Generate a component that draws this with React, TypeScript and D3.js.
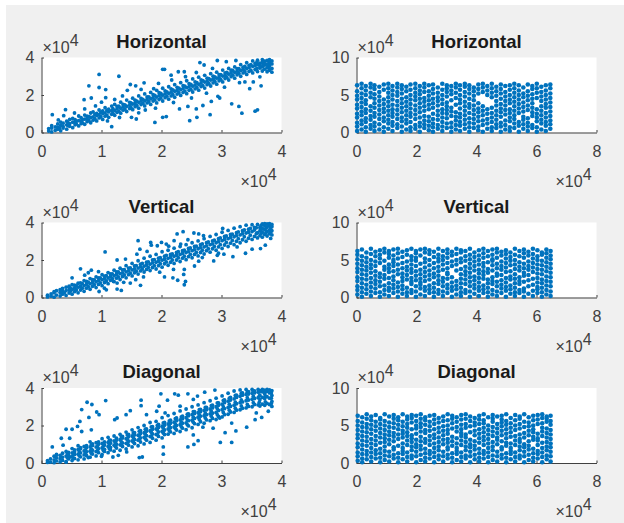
import React, { useEffect, useRef } from 'react';
import * as d3 from 'd3';

type Row = number[];

// all values in units of 1e4
const titles = ['Horizontal', 'Vertical', 'Diagonal'];
const leftTicksX = [0, 1, 2, 3, 4];
const leftTicksY = [0, 2, 4];
const rightTicksX = [0, 2, 4, 6, 8];
const rightTicksY = [0, 5, 10];

// band rows: [x, y, y, y...]
const hzLeftBand: Row[] = [
  [.12,.08,.21],[.17,.03,.24,.36],[.23,.12,.3],[.27,.17,.29,.46],[.32,.09,.38,.55],[.36,.24,.33,.5],[.42,.18,.41,.6],[.47,.33,.47,.7],
  [.52,.26,.55,.75],[.56,.41,.52,.68],[.62,.35,.63,.88],[.66,.47,.6,.79],[.72,.44,.71,.93],[.76,.58,.75,.87],[.82,.52,.8,1.04],[.86,.66,.83,1.1],
  [.92,.62,.91,1.02],[.96,.78,.95,1.2],[1.02,.7,1.01,1.15],[1.06,.87,1.05,1.32],[1.12,.81,1.1,1.24],[1.17,.97,1.16,1.41],[1.22,.92,1.18,1.5],[1.26,1.08,1.27,1.39],
  [1.32,1.03,1.29,1.62],[1.36,1.19,1.37,1.5],[1.42,1.12,1.4,1.73],[1.47,1.28,1.46,1.61],[1.52,1.22,1.52,1.83],[1.56,1.38,1.55,1.72],[1.62,1.3,1.61,1.95],[1.66,1.49,1.68,1.82],
  [1.72,1.42,1.69,2.06],[1.76,1.58,1.77,1.9],[1.82,1.5,1.8,2.14],[1.86,1.68,1.86,2.02],[1.92,1.58,1.89,2.25],[1.96,1.76,1.97,2.12],[2.02,1.68,1.99,2.36],[2.06,1.86,2.06,2.22],
  [2.12,1.78,2.09,2.44],[2.16,1.95,2.15,2.32],[2.22,1.88,2.2,2.55],[2.26,2.05,2.24,2.41],[2.32,1.98,2.29,2.66],[2.36,2.14,2.34,2.5],[2.42,2.07,2.39,2.76],[2.46,2.25,2.44,2.6],
  [2.52,2.16,2.47,2.86],[2.56,2.33,2.53,2.7],[2.62,2.26,2.57,2.95],[2.66,2.45,2.64,2.8],[2.72,2.37,2.69,3.05],[2.76,2.55,2.74,2.9],[2.82,2.48,2.8,3.14],[2.86,2.65,2.84,3],
  [2.92,2.58,2.9,3.22],[2.96,2.76,2.94,3.08],[3.02,2.7,3.01,3.33],[3.06,2.88,3.05,3.18],[3.12,2.8,3.11,3.42],[3.16,2.98,3.17,3.3],[3.22,2.9,3.21,3.5],[3.26,3.08,3.27,3.4],
  [3.32,3,3.31,3.62],[3.36,3.18,3.37,3.48],[3.42,3.1,3.41,3.72],[3.46,3.26,3.47,3.58],[3.52,3.18,3.53,3.82],[3.56,3.36,3.57,3.68],[3.6,3.25,3.62,3.86],[3.64,3.44,3.7,3.56],
  [3.68,3.28,3.5,3.74,3.88],[3.72,3.38,3.6,3.8,3.66],[3.76,3.24,3.46,3.64,3.84],[3.8,3.32,3.56,3.72,3.88],[3.84,3.22,3.42,3.66,3.82],
];
// fills the gaps inside the dense part of the band
const hzLeftCore: Row[] = [
  [.3,.22],[.44,.37,.52],[.58,.46,.6],[.68,.52,.7],[.79,.64,.84],[.89,.74,.96],[.99,.84,1.08],[1.09,.93,1.18],[1.19,1.03,1.27],[1.29,1.14,1.4],
  [1.39,1.26,1.47],[1.49,1.35,1.58],[1.59,1.44,1.67],[1.69,1.56,1.77],[1.79,1.64,1.9],[1.89,1.74,1.98],[1.99,1.84,2.08],[2.09,1.94,2.17],[2.19,2.02,2.27],[2.29,2.12,2.37],
  [2.39,2.21,2.47],[2.49,2.3,2.57],[2.59,2.4,2.66],[2.69,2.5,2.77],[2.79,2.62,2.87],[2.89,2.72,2.96],[2.99,2.82,3.08],[3.09,2.94,3.2],[3.19,3.06,3.3],[3.29,3.16,3.4],
  [3.39,3.24,3.52],[3.49,3.32,3.62],[3.59,3.42,3.74],[3.69,3.6,3.82],[3.79,3.44,3.8],
];
const hzLeftOut: Row[] = [
  [.96,3.1],[1.29,3],[.79,2.49],[.96,2.4],[1.07,2.29],[.71,1.75],[.83,1.84],[.18,.95],[.4,1.22],[.37,.9],[.28,.67],[1.07,1.86],[1,1.62],[.72,1.26],
  [1.43,2.25],[1.48,2.56],[1.57,2.49],[1.71,2.65],[1.87,2.34],[2.02,3.37],[2.05,3.37],[2.16,3.06],[2.28,3.24],[2.38,3.24],[2.64,3.73],[2.71,3.6],[2.93,3.84],[3.08,3.78],[3.24,3.84],[3.17,3.33],
  [2.02,.81],[2.08,.85],[1.89,.54],[1.73,1.2],[1.58,.72],[1.5,.81],[1.17,.31],[2.47,.63],[2.59,.81],[2.81,.95],[2.3,1.26],[2.44,1.39],[2.58,1.26],[2.69,1.44],[2.83,1.66],[2.94,1.93],[2.97,1.84],
  [3.17,1.53],[3.29,1.39],[3.34,1.03],[3.56,1.14],[3.6,1.21],[3.47,2.34],[3.66,2.49],[3.39,2.7],[3.53,2.7],[3.64,2.97],
  [.55,1.04],[.9,1.42],[1.22,1.76],[1.35,1.95],[1.66,2.3],[1.95,2.62],[2.17,2.8],[2.4,2.98],[2.58,3.2],[2.85,3.42],[1.1,.62],[1.3,.8],[1.62,1.05],[1.9,1.3],[2.2,1.6],[2.5,1.84],[2.75,2.1],[3.05,2.42],[3.3,2.66],
];
const vtLeftBand: Row[] = [
  [.1,.03,.12],[.16,.07,.19],[.21,.02,.25,.31],[.25,.13,.36],[.31,.08,.27,.42],[.35,.18,.33,.48],[.41,.11,.37,.55],[.46,.24,.42,.6],
  [.51,.18,.44,.68],[.55,.31,.5,.66],[.61,.25,.55,.76],[.65,.4,.6,.78],[.71,.33,.63,.9],[.75,.5,.7,.86],[.81,.44,.74,1.01],[.85,.6,.8,.95],
  [.91,.53,.84,1.1],[.95,.7,.9,1.04],[1.01,.63,.95,1.22],[1.05,.8,1,1.14],[1.11,.74,1.04,1.33],[1.15,.92,1.12,1.26],[1.21,.85,1.16,1.46],[1.25,1.03,1.23,1.36],
  [1.31,.96,1.27,1.56],[1.35,1.12,1.31,1.47],[1.41,1.05,1.37,1.7],[1.45,1.22,1.42,1.57],[1.51,1.15,1.47,1.82],[1.55,1.32,1.52,1.68],[1.61,1.25,1.57,1.96],[1.65,1.42,1.63,1.78],
  [1.71,1.36,1.67,2.1],[1.75,1.5,1.73,1.88],[1.81,1.44,1.78,2.2],[1.85,1.6,1.85,2],[1.91,1.52,1.88,2.3],[1.95,1.7,1.94,2.1],[2.01,1.62,1.99,2.44],[2.05,1.8,2.04,2.2],
  [2.11,1.72,2.09,2.52],[2.15,1.88,2.14,2.3],[2.21,1.82,2.2,2.63],[2.25,2,2.25,2.4],[2.31,1.92,2.3,2.72],[2.35,2.1,2.35,2.5],[2.41,2.02,2.4,2.82],[2.45,2.18,2.45,2.62],
  [2.51,2.12,2.5,2.92],[2.55,2.3,2.55,2.72],[2.61,2.22,2.6,3.02],[2.65,2.4,2.66,2.82],[2.71,2.32,2.7,3.14],[2.75,2.5,2.75,2.92],[2.81,2.42,2.82,3.26],[2.85,2.6,2.86,3.02],
  [2.91,2.52,2.92,3.36],[2.95,2.7,2.98,3.14],[3.01,2.62,3.03,3.48],[3.05,2.8,3.1,3.26],[3.11,2.72,3.14,3.58],[3.15,2.9,3.2,3.36],[3.21,2.82,3.24,3.7],[3.25,3,3.3,3.46],
  [3.31,2.92,3.34,3.78],[3.35,3.08,3.4,3.56],[3.41,3,3.44,3.86],[3.45,3.16,3.48,3.64],[3.51,3.1,3.52,3.88],[3.55,3.26,3.6,3.74],[3.6,3.18,3.46,3.9],[3.64,3.3,3.56,3.74],
  [3.68,3.22,3.48,3.7,3.92],[3.72,3.36,3.62,3.84,3.94],[3.76,3.28,3.52,3.76,3.92],[3.8,3.4,3.6,3.82,3.94],[3.84,3.34,3.56,3.78,3.9],
];
const vtLeftCore: Row[] = [
  [.38,.25],[.48,.33,.5],[.58,.4,.62],[.68,.49,.74],[.78,.58,.82],[.88,.68,.94],[.98,.78,1.04],[1.08,.88,1.16],[1.18,1,1.26],[1.28,1.1,1.36],
  [1.38,1.2,1.48],[1.48,1.3,1.58],[1.58,1.4,1.7],[1.68,1.52,1.82],[1.78,1.6,1.9],[1.88,1.7,2.02],[1.98,1.8,2.12],[2.08,1.9,2.24],[2.18,2,2.32],[2.28,2.12,2.44],
  [2.38,2.2,2.52],[2.48,2.3,2.64],[2.58,2.4,2.74],[2.68,2.52,2.86],[2.78,2.6,2.96],[2.88,2.72,3.06],[2.98,2.82,3.18],[3.08,2.94,3.28],[3.18,3.04,3.38],[3.28,3.14,3.5],
  [3.38,3.24,3.6],[3.48,3.32,3.68],[3.58,3.4,3.72],[3.66,3.42,3.62,3.84],[3.74,3.46,3.7],[3.82,3.5,3.72],
];
const vtLeftOut: Row[] = [
  [1.06,2.43],[.65,1.53],[.51,1.05],[.83,1.46],[.78,1.32],[.72,1.19],[1.26,2],[1.61,3.03],[1.64,2.58],[1.59,2.31],[1.82,2.94],[1.83,2.79],[2,2.94],[1.93,2.76],[2.08,2.85],[2.21,3.03],
  [2.36,3.51],[2.26,3.39],[2.54,3.44],[2.62,3.39],[2.44,3.08],[2.32,2.85],[1.97,1.35],[2.05,1.1],[2.19,1.05],[2.27,.92],[2.38,1.5],[2.37,1.23],[2.4,.86],[2.38,.68],[2.55,1.68],[2.68,2.13],
  [2.87,1.95],[2.93,2.25],[3.04,2.31],[3.19,2.18],[3.4,2.36],[3.51,2.58],[3.65,2.61],[3.73,2.79],[3.82,3.15],[1.65,.65],[1.57,.95],[1.48,.77],[1.37,.81],[1.26,.77],[1.26,.45],[1.33,.38],[1.08,.41],[.96,.32],[1.2,.86],
  [.95,1.38],[1.4,2.05],[1.76,2.46],[2.12,2.74],[2.7,3.3],[3.02,3.68],[1.05,.5],[1.7,1.1],[2.2,1.5],[2.62,1.94],[2.95,2.36],[3.26,2.7],
];
const dgLeftBand: Row[] = [
  [.1,.03,.12],[.15,.05,.22],[.21,.02,.17,.36],[.25,.11,.29,.46],[.31,.06,.23,.41],[.35,.14,.31,.52],[.41,.07,.37,.62],[.45,.22,.42,.56],
  [.51,.13,.34,.54,.77],[.55,.24,.46,.6,.7],[.61,.17,.47,.72,.92],[.65,.33,.54,.76,.82],[.71,.22,.43,.64,.88],[.75,.4,.6,.81,.93],[.81,.31,.63,.86,1.13],[.85,.48,.68,.93,1.02],
  [.91,.38,.61,.85,1.08],[.95,.55,.76,1,1.12],[1.01,.46,.8,1.04,1.3],[1.05,.62,.73,.96,1.12],[1.11,.55,.88,1.1,1.37],[1.15,.7,.83,1.06,1.22],[1.21,.63,.95,1.18,1.44],[1.25,.8,1,1.22,1.32],
  [1.31,.68,.97,1.24,1.53],[1.35,.88,1.07,1.33,1.42],[1.41,.75,1.05,1.3,1.65],[1.45,.95,1.16,1.4,1.52],[1.51,.86,1.18,1.44,1.77],[1.55,1.04,1.26,1.5,1.62],[1.61,.92,1.22,1.48,1.89],[1.65,1.12,1.34,1.58,1.72],
  [1.71,1.02,1.37,1.62,2],[1.75,1.22,1.46,1.7,1.82],[1.81,1.1,1.41,1.72,2.16],[1.85,1.32,1.55,1.8,1.94],[1.91,1.22,1.52,1.82,2.22],[1.95,1.42,1.66,1.9,2.06],[2.01,1.34,1.68,1.96,2.42],[2.05,1.52,1.76,2.02,2.16],
  [2.11,1.54,1.82,2.08,2.53],[2.15,1.66,1.88,2.12,2.28],[2.21,1.58,1.92,2.18,2.64],[2.25,1.76,2,2.26,2.4],[2.31,1.68,2.04,2.3,2.78],[2.35,1.86,2.12,2.36,2.5],[2.41,1.78,2.14,2.42,2.88],[2.45,1.98,2.26,2.52,2.62],
  [2.51,1.88,2.28,2.58,3],[2.55,2.1,2.38,2.64,2.74],[2.61,2.06,2.44,2.68,3.1],[2.65,2.2,2.5,2.74,2.86],[2.71,2.12,2.52,2.8,3.22],[2.75,2.3,2.58,2.84,2.96],[2.81,2.26,2.62,2.88,3.32],[2.85,2.38,2.66,2.94,3.08],
  [2.91,2.32,2.7,3,3.46],[2.95,2.48,2.8,3.08,3.2],[3.01,2.46,2.84,3.14,3.58],[3.05,2.58,2.9,3.22,3.36],[3.11,2.6,2.96,3.3,3.72],[3.15,2.72,3.02,3.36,3.5],[3.21,2.7,3.08,3.42,3.84],[3.25,2.82,3.16,3.5,3.62],
  [3.31,2.84,3.22,3.56,3.9],[3.35,2.92,3.26,3.62,3.74],[3.41,2.94,3.32,3.66,3.92],[3.45,3.02,3.36,3.68,3.8],[3.51,3,3.4,3.72,3.92],[3.55,3.12,3.44,3.74,3.84],[3.61,3.1,3.48,3.78,3.92],[3.64,3.04,3.38,3.62,3.86],
  [3.68,3.14,3.5,3.8,3.92],[3.72,3.08,3.44,3.7,3.88],[3.76,3.18,3.54,3.82,3.92],[3.8,3.12,3.46,3.74,3.9],[3.84,3.02,3.28,3.6,3.86],
];
const dgLeftCore: Row[] = [
  [.43,.28,.5],[.53,.25,.44],[.63,.38,.6],[.73,.5,.7],[.83,.52,.74,.98],[.93,.66,.9],[1.03,.68,.9],[1.13,.76,.98,1.2],[1.23,.88,1.1],[1.33,.96,1.14,1.4],
  [1.43,1.06,1.26,1.5],[1.53,1.12,1.36,1.6],[1.63,1.28,1.48,1.7],[1.73,1.3,1.54,1.8],[1.83,1.44,1.64,1.92],[1.93,1.52,1.76,2],[2.03,1.6,1.86,2.14],[2.13,1.72,1.96,2.24],[2.23,1.84,2.08,2.36],[2.33,1.94,2.18,2.46],
  [2.43,2.04,2.3,2.6],[2.53,2.18,2.44,2.74],[2.63,2.32,2.58,2.84],[2.73,2.4,2.66,2.96],[2.83,2.5,2.76,3.06],[2.93,2.58,2.9,3.2],[3.03,2.7,3,3.34],[3.13,2.82,3.14,3.46],[3.23,2.92,3.24,3.6],[3.33,3.04,3.36,3.72],
  [3.43,3.12,3.48,3.78],[3.53,3.22,3.56,3.82],[3.63,3.24,3.58,3.8],[3.73,3.26,3.58,3.8],[3.83,3.18,3.46,3.74],
];
const dgLeftOut: Row[] = [
  [1.07,3.33],[.76,3.24],[.84,3.12],[.67,2.85],[.92,2.72],[.96,2.58],[.79,2.43],[.64,2.22],[.6,1.95],[.67,1.68],[.41,1.8],[.51,1.8],[.83,1.77],[.33,1.32],[.47,1.32],[.18,.86],[.36,.95],
  [1.22,2.31],[1.26,2.4],[1.41,2.58],[1.48,2.79],[1.66,3.35],[1.66,3.06],[1.99,3.69],[2.22,3.69],[2.28,3.62],[2.1,3.35],[2.44,3.69],[2.6,3.57],[2.72,3.78],[2.89,3.89],[2.53,3.39],[2.31,3.03],
  [1.96,3.03],[1.92,2.76],[2.06,2.67],[1.75,2.58],[1.19,.32],[1.28,.41],[1.42,.59],[1.63,.29],[1.68,.32],[2.03,.47],[2.03,.86],[2.44,.86],[2.54,.99],[2.61,1.19],[2.53,1.5],[2.98,1.1],[3.17,1.1],
  [3.06,1.62],[3.24,1.71],[3.42,1.91],[3.17,2.13],[2.97,2.4],[3.56,2.31],[3.67,2.43],[3.58,2.67],[3.78,2.76],[2.86,1.86],[2.69,1.91],[.47,.32],[.41,.05],[.78,.29],[1,.36],
];
// right panels, columns: [x, y, y, y...]
const hzRight: Row[] = [
  [.02,.2,.8,1.3,2,2.5,3.2,3.7,4.4,4.9,5.5,6.3],[.17,.4,1.1,1.6,2.3,2.8,3.4,4,4.6,5.2,5.9,6.5],[.31,.1,.7,1.4,1.9,2.6,3.1,3.8,4.3,5,5.6,6.2],[.47,.5,1,1.7,2.2,2.9,3.5,4.7,5.3,6,6.5],
  [.6,.2,.8,1.3,2.1,2.6,3.3,3.9,4.5,5.1,5.8,6.3],[.76,.4,1.1,1.8,2.4,3,3.6,4.2,4.8,5.4,6.1],[.91,.1,.7,1.5,2,2.7,3.2,3.8,4.4,5.7,6.4],[1.06,.5,1.2,1.7,2.3,2.9,3.5,4.1,4.7,5.3,5.9,6.5],
  [1.2,.2,.9,1.4,2.1,2.6,3.1,3.7,4.4,5,5.6,6.2],[1.36,.6,1.1,1.8,2.4,3,3.6,4.2,4.9,5.4,6,6.5],[1.51,.1,.8,1.5,2,2.7,3.3,3.9,4.5,5.2,5.8,6.3],[1.66,.4,1.2,1.7,2.3,2.9,3.5,4.1,4.7,5.5,6.1],
  [1.8,.2,.7,1.4,2.1,2.6,3.2,3.8,4.4,5,5.7,6.4],[1.96,.5,1,1.8,2.4,3,3.6,4.3,4.8,5.3,5.9,6.5],[2.11,.1,.8,1.3,2,2.7,3.3,3.9,4.5,5.1,5.6,6.2],[2.26,.6,1.1,1.6,2.2,2.9,3.5,4.1,4.6,5.4,6,6.5],
  [2.41,.3,.9,1.5,2.1,3.1,3.7,4.3,4.9,5.5,6.3],[2.55,.1,.7,1.2,1.8,2.5,3.3,3.9,4.5,5.2,5.8,6.4],[2.71,.5,1,1.7,2.3,2.9,3.6,4.2,4.7,5.3,6],[2.86,.2,.8,1.4,2,2.6,3.1,3.8,4.4,5,5.7,6.5],
  [3.01,.6,1.2,1.9,2.5,3,3.5,4,4.8,5.4,5.9,6.3],[3.16,.1,.7,1.3,2.2,2.8,3.3,4.3,5.1,5.6,6.2],[3.31,.4,1,1.6,2.1,2.7,3.7,4.6,5.3,6,6.5],[3.45,.2,.9,1.4,2,2.5,3.2,3.9,4.4,5,5.7,6.3],
  [3.61,.5,1.1,1.7,2.3,2.9,3.5,4.1,4.8,5.4,6.1,6.5],[3.76,.1,.7,1.3,1.9,2.6,3.3,3.8,4.5,5.2,5.8,6.3],[3.91,.6,1.2,1.8,2.4,3,3.6,4.3,4.9,5.5,6],[4.06,.3,.8,1.5,2.1,2.7,3.2,3.9,5.2,5.8,6.4],
  [4.21,.1,1,1.6,2.3,2.9,3.5,5.4,6,6.5],[4.36,.5,1.2,1.8,2.5,3.1,5,5.6,6.2],[4.51,.2,.7,1.4,2,2.6,3.3,4.7,5.3,5.9,6.5],[4.66,.6,1.1,1.7,2.3,2.9,3.6,4.2,4.9,5.5,6.1],
  [4.81,.1,.8,1.3,2.1,2.7,3.2,3.8,4.5,5.2,5.8,6.4],[4.96,.4,1,1.6,2.4,3,3.6,4.2,4.8,5.4,6.2],[5.11,.2,.7,1.5,2,2.6,3.1,3.9,4.4,5,5.7,6.3],[5.26,.6,1.2,1.8,2.3,2.9,3.5,4.1,4.7,5.3,5.9,6.5],
  [5.41,.1,.9,1.4,2.6,3.2,3.8,4.4,5,5.6,6.3],[5.56,.5,1.1,1.7,2.1,2.8,3.4,4,4.7,5.2,6],[5.71,.2,.8,1.3,1.9,3,3.6,4.3,4.9,5.5,6.4],[5.86,.6,1,2.2,2.7,3.3,3.9,4.5,5.1,5.8,6.2],
  [6.01,.1,.7,1.5,2,2.5,3.1,4.6,5.3,5.9,6.5],[6.16,.4,1.2,1.7,2.3,2.9,3.5,4.2,4.8,5.4,6.1],[6.31,.2,.9,1.4,2,2.6,3.3,3.8,4.4,5,5.6,6.3],[6.46,.5,1.1,1.6,2.2,2.8,3.4,4,4.6,5.2,5.9,6.4],
];
const vtRight: Row[] = [
  [.03,.4,1,1.5,2.2,2.7,3.4,3.9,4.5,5.1,5.7,6.2],[.18,.1,.7,1.3,1.9,2.5,3.1,3.7,4.3,4.9,5.5,6.4],[.33,.5,1.1,1.7,2.4,3,3.6,4.1,4.7,5.3,6],[.48,.2,.8,1.4,2,2.6,3.3,3.9,4.4,5,5.8,6.5],
  [.63,.6,1.2,1.8,2.3,2.9,3.5,4.2,4.8,5.5,6.1],[.78,.1,.7,1.5,2.1,2.7,3.2,4.6,5.2,5.7,6.3],[.93,.4,1,1.6,2.5,3,3.7,4.1,4.9,6,6.5],[1.08,.2,.9,1.3,1.9,2.6,3.4,3.9,4.4,5.3,5.8,6.2],
  [1.23,.6,1.2,1.7,2.3,2.8,3.5,4.2,4.7,5,5.6,6.4],[1.38,.1,.8,1.4,2,3.1,3.7,4.4,5.2,5.9,6.5],[1.53,.5,1.1,1.6,2.2,2.7,3.2,3.9,4.6,5.4,6.1],[1.68,.2,.7,1.3,2.4,3,3.6,4.1,4.8,5.7,6.3],
  [1.83,.6,1,1.8,2.1,2.6,3.3,3.8,4.4,5,5.5,6.5],[1.98,.1,.8,1.5,2.3,2.9,3.5,4.2,4.9,5.3,5.9,6.2],[2.13,.4,1.2,1.7,2,2.5,3.1,3.7,4.5,5.6,6.4],[2.28,.2,.9,1.4,2.2,2.8,3.4,4,4.7,5.2,6,6.5],
  [2.43,.6,1.1,1.6,2.4,3,3.6,4.3,5,5.8,6.3],[2.58,.1,.7,1.3,1.9,2.7,3.2,3.9,4.6,5.4,6.1],[2.73,.5,1,1.8,2.3,2.9,3.5,4.1,4.8,5.2,5.7,6.5],[2.88,.2,.8,1.5,2.1,2.6,3.7,4.4,5,5.5,6.2],
  [3.03,.6,1.2,1.7,2.5,3.1,3.3,3.9,4.6,5.3,5.9,6.4],[3.18,.1,.9,1.4,2,2.7,4.2,4.8,5.6,6.1],[3.33,.4,1.1,1.6,2.2,3.6,4.4,5,5.8,6.5],[3.48,.2,.7,1.3,1.9,2.5,3.1,3.8,4.7,5.2,6,6.3],
  [3.63,.6,1,1.8,2.4,3,3.5,4.1,4.9,5.5,6.2],[3.78,.1,.8,1.5,2.1,2.7,3.3,3.9,4.5,5.1,5.7,6.5],[3.93,.5,1.2,1.7,2.3,2.8,3.6,4.2,4.8,5.4,6],[4.08,.2,.9,1.4,2,2.6,3.2,3.7,4.4,5,5.6,6.3],
  [4.23,.6,1.1,1.6,2.5,3,3.5,4.1,4.6,5.3,5.9,6.5],[4.38,.1,.7,1.3,1.9,2.4,3.3,3.8,4.7,5.5,6.2],[4.53,.4,1,1.8,2.2,2.7,3.6,4.3,4.9,5.1,5.7,6.4],[4.68,.2,.8,1.5,2.1,2.9,3.2,3.9,4.5,5.3,6,6.5],
  [4.83,.6,1.2,1.7,2.3,3,3.7,4.2,4.8,5.6,6.1],[4.98,.1,.9,1.4,2,2.6,3.4,4,4.6,5.2,5.8,6.3],[5.13,.5,1.1,1.6,2.4,2.8,3.5,4.3,4.9,5.4,6],[5.28,.2,.7,1.3,1.9,2.5,3.1,3.8,4.4,5,5.7,6.5],
  [5.43,.6,1,1.8,2.2,2.7,3.6,4.1,4.7,5.5,6.2],[5.58,.1,.8,1.2,2.1,2.9,3.3,3.9,4.5,5.3,5.9,6.4],[5.73,.5,1.5,2.3,3,3.7,4.2,4.8,5.6,6.1],[5.88,.2,.9,1.7,2.5,3.4,4,4.6,5.2,5.8,6.5],
  [6.03,.6,1.1,1.4,2,2.6,3.2,3.8,4.4,5,5.5,6.3],[6.18,.1,.7,1.3,1.9,2.4,3.1,3.7,4.3,4.9,5.7,6],[6.33,.4,1,1.6,2.2,2.8,3.5,4.1,4.7,5.3,5.9,6.4],[6.47,.2,.8,1.5,2.1,2.7,3.3,3.9,4.5,5.1,5.6,6.2],
];
const dgRight: Row[] = [
  [.04,.3,.9,1.4,2.1,2.6,3.3,3.8,4.4,5,5.6,6.3],[.19,.1,.6,1.2,1.8,2.4,3,3.6,4.2,4.8,5.4,6.1],[.34,.5,1.1,1.6,2.3,2.9,3.5,4.1,4.7,5.2,5.9,6.5],[.49,.2,.8,1.4,2,2.6,3.2,3.9,4.5,5.1,5.7,6.2],
  [.64,.6,1.2,1.7,2.4,3,3.6,4.3,4.9,5.5,6.4],[.79,.1,.7,1.3,1.9,2.7,3.4,4,4.6,5.2,5.8,6],[.94,.4,1,1.6,2.2,2.8,3.3,3.8,4.4,5,5.6,6.5],[1.09,.2,.9,1.5,2.5,3.1,3.7,4.2,4.8,5.4,6.2],
  [1.24,.6,1.1,1.8,2.1,2.9,3.5,4,4.7,5.3,5.9,6.4],[1.39,.1,.7,1.3,2.3,3.2,3.8,4.5,5.1,5.7,6.1],[1.54,.5,1.2,1.6,2,2.6,3.4,3.9,4.3,4.9,5.5,6.5],[1.69,.2,.8,1.4,2.4,3,3.6,4.1,4.7,5.2,5.8,6.2],
  [1.84,.6,1,1.7,2.2,2.8,3.3,3.7,4.5,5.4,6,6.4],[1.99,.1,.9,1.5,2.1,2.5,3.1,3.9,4.6,5,5.6,6.3],[2.14,.4,1.1,1.8,2.3,2.9,3.5,4.2,4.8,5.3,5.9,6.5],[2.29,.2,.7,1.3,1.9,2.7,3.2,4,4.4,5.1,5.7,6.1],
  [2.44,.6,1.2,1.6,2.4,3,3.6,4.3,4.9,5.5,6.3],[2.59,.1,.8,1.4,2,2.6,3.3,3.8,4.5,5.2,5.8,6.4],[2.74,.5,1,1.7,2.2,2.8,3.4,4.1,4.7,5.4,6],[2.89,.2,.9,1.5,2.5,3.1,3.7,4.3,4.9,5.6,6.2],
  [3.04,.6,1.1,1.8,2.1,2.7,3.2,3.9,4.4,5,5.7,6.5],[3.19,.1,.7,1.3,2.3,2.9,3.5,4.6,5.3,5.9,6.3],[3.34,.4,1.2,1.6,2,2.6,3.3,4.2,4.8,5.5,6.1],[3.49,.2,.8,1.4,2.4,3,3.6,4,4.5,5.1,5.8,6.4],
  [3.64,.6,1,1.7,2.2,2.8,3.4,3.8,4.7,5.2,5.9,6.5],[3.79,.1,.9,1.5,2.1,2.5,3.1,4.1,4.9,5.6,6.2],[3.94,.5,1.1,1.8,2.3,2.9,3.7,4.3,5,5.4,6],[4.09,.2,.7,1.3,1.9,2.7,3.3,3.9,4.5,5.2,5.8,6.3],
  [4.24,.6,1.2,1.6,2.4,3,3.5,4.1,4.7,5.3,5.7,6.5],[4.39,.1,.8,1.4,2,2.6,3.2,3.8,4.4,5,6.1],[4.54,.4,1,1.7,2.2,2.8,3.6,4.2,4.8,5.5,5.9,6.4],[4.69,.2,.9,1.5,2.5,3.1,3.4,4,4.6,5.2,6.2],
  [4.84,.6,1.1,1.8,2.1,2.9,3.7,4.3,4.9,5.4,5.8,6.3],[4.99,.1,.7,1.3,2.3,2.7,3.3,3.9,4.5,5.1,5.6,6.5],[5.14,.5,1.2,1.6,2,2.6,3.5,4.1,4.7,5.3,6],[5.29,.2,.8,1.4,2.4,3,3.6,4.4,5,5.7,6.4],
  [5.44,.6,1,1.7,2.2,2.8,3.2,3.8,4.6,5.2,5.9,6.2],[5.59,.1,.9,1.5,2.1,2.5,3.4,4,4.8,5.5,6.5],[5.74,.4,1.1,1.8,2.3,2.9,3.7,4.3,4.9,5.4,6.1],[5.89,.2,.7,1.3,1.9,3.1,3.5,4.1,4.5,5,5.7,6.3],
  [6.04,.6,1.2,1.6,2.4,3,3.3,3.9,5.2,5.8,6.4],[6.19,.1,.8,1.4,2,2.7,3.6,4.2,4.7,5.3,6,6.5],[6.34,.5,1,1.7,2.2,2.8,3.4,4,4.6,5.5,5.9,6.2],[6.47,.2,.9,1.5,2.1,2.6,3.2,3.8,4.4,5.1,5.6,6.3],
];

const expandRows = (rows: Row[]) => rows.flatMap((r) => r.slice(1).map((y) => [r[0], y]));

const leftPoints = [
  [...expandRows(hzLeftBand), ...expandRows(hzLeftCore), ...hzLeftOut],
  [...expandRows(vtLeftBand), ...expandRows(vtLeftCore), ...vtLeftOut],
  [...expandRows(dgLeftBand), ...expandRows(dgLeftCore), ...dgLeftOut],
];
const rightPoints = [expandRows(hzRight), expandRows(vtRight), expandRows(dgRight)];

const plotTop = [57.5, 222.5, 388];
const plotHeight = 75;
const plotWidth = 240;
const blue = '#0072BD';
const fontFamily = '"Liberation Sans", Arial, sans-serif';

export default function App() {
  const ref = useRef<SVGSVGElement>(null);

  useEffect(() => {
    const svg = d3.select(ref.current);
    svg.selectAll('*').remove();

    svg.append('rect').attr('x', 6).attr('y', 5).attr('width', 618).attr('height', 518).attr('fill', '#f0f0f0');

    // reference is a slightly soft screenshot
    svg.append('filter').attr('id', 'soft').append('feGaussianBlur').attr('stdDeviation', 0.4);

    const drawPanel = (left: number, top: number, title: string, pts: number[][], xMax: number, yMax: number, xTicks: number[], yTicks: number[], r: number) => {
      const g = svg.append('g').attr('transform', `translate(${left},${top})`);
      const x = d3.scaleLinear().domain([0, xMax]).range([0, plotWidth]);
      const y = d3.scaleLinear().domain([0, yMax]).range([plotHeight, 0]);

      g.append('rect').attr('width', plotWidth).attr('height', plotHeight).attr('fill', '#fff');

      g.append('g')
        .attr('transform', `translate(0,${plotHeight})`)
        .call(d3.axisBottom(x).tickValues(xTicks).tickFormat(d3.format('d') as any).tickSizeInner(-2.5).tickSizeOuter(0).tickPadding(13));
      g.append('g')
        .call(d3.axisLeft(y).tickValues(yTicks).tickFormat(d3.format('d') as any).tickSizeInner(-2.5).tickSizeOuter(0).tickPadding(7));
      g.selectAll('.domain, .tick line').attr('stroke', '#404040');
      g.selectAll('.tick text').attr('fill', '#404040').style('font-size', '16px').style('font-family', fontFamily);

      g.append('g')
        .attr('filter', 'url(#soft)')
        .selectAll('circle')
        .data(pts)
        .enter()
        .append('circle')
        .attr('cx', (d) => x(d[0]))
        .attr('cy', (d) => y(d[1]))
        .attr('r', r)
        .attr('fill', blue);

      g.append('text')
        .attr('x', plotWidth / 2)
        .attr('y', -10)
        .attr('text-anchor', 'middle')
        .style('font-family', fontFamily)
        .style('font-size', '18.5px')
        .style('font-weight', 'bold')
        .attr('fill', '#1a1a1a')
        .text(title);

      const multiplier = (mx: number, my: number) => {
        const t = g.append('text').attr('x', mx).attr('y', my).style('font-family', fontFamily).style('font-size', '16px').attr('fill', '#404040');
        t.append('tspan').text('×10');
        t.append('tspan').attr('dy', -7).text('4');
      };
      multiplier(1, -5);
      multiplier(199, plotHeight + 54);
    };

    titles.forEach((title, i) => {
      drawPanel(41.5, plotTop[i], title, leftPoints[i], 4, 4, leftTicksX, leftTicksY, 1.9);
      drawPanel(356.5, plotTop[i], title, rightPoints[i], 8, 10, rightTicksX, rightTicksY, 2.3);
    });
  }, []);

  return <svg ref={ref} width={624} height={523} style={{ position: 'absolute', left: 0, top: 0 }} />;
}
